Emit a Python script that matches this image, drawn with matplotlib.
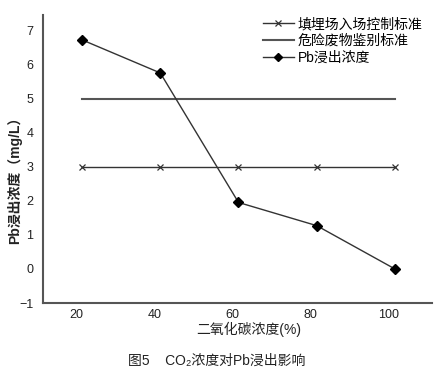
import matplotlib
matplotlib.use("Agg")
import matplotlib.pyplot as plt

plt.rcParams['font.family'] = ['Liberation Sans', 'Noto Sans CJK SC', 'DejaVu Sans']

co2 = [21.5, 41.5, 61.5, 81.5, 101.5]
pb = [6.72, 5.75, 1.95, 1.27, 0.0]
landfill_std = [3, 3, 3, 3, 3]
hazard_std = [5, 5, 5, 5, 5]
xticks = [20, 40, 60, 80, 100]
yticks = [-1, 0, 1, 2, 3, 4, 5, 6, 7]

fig = plt.figure(figsize=(4.39, 3.73), dpi=100)
ax = fig.add_axes([43/439, 1-303/373, (432-43)/439, (303-15)/373])

c = '#333333'
ax.plot(co2, landfill_std, color=c, lw=1.0, marker='x', ms=5, mew=0.9, label='填埋场入场控制标准')
ax.plot(co2, hazard_std, color='#555555', lw=1.5, label='危险废物鉴别标准')
ax.plot(co2, pb, color=c, lw=1.0, marker='D', ms=5, mfc='black', mec='black', label='Pb浸出浓度')

ax.set_xlim(11.5, 111)
ax.set_ylim(-1, 7.45)
ax.set_xticks(xticks)
ax.set_yticks(yticks)
ax.tick_params(axis='y', length=0, labelsize=9, colors='#222222', pad=7)
ax.tick_params(axis='x', length=0, labelsize=9, colors='#222222', pad=4)
for s in ['top', 'right']:
    ax.spines[s].set_visible(False)
for s in ['left', 'bottom']:
    ax.spines[s].set_color('#555555')
    ax.spines[s].set_linewidth(1.5)

fig.text(249/439, 1-329/373, '二氧化碳浓度(%)', ha='center', va='center', fontsize=10, color='#222222')
fig.text(15/439, 1-177/373, 'Pb浸出浓度（mg/L）', ha='center', va='center', rotation=90,
         fontsize=10, fontweight='bold', color='#222222')

leg = fig.legend(*ax.get_legend_handles_labels(), loc='upper left', bbox_to_anchor=(263/439, 1-17/373),
                 frameon=False, fontsize=10, handlelength=2.2, handletextpad=0.3,
                 labelspacing=0.22, borderpad=0.0, borderaxespad=0.0)
for h in leg.legend_handles:
    h.set_markersize(4)

fig.text(217/439, 1-361/373, '图5    CO₂浓度对Pb浸出影响', ha='center', va='center', fontsize=10, color='#222222')

fig.savefig('out.png', dpi=100)
